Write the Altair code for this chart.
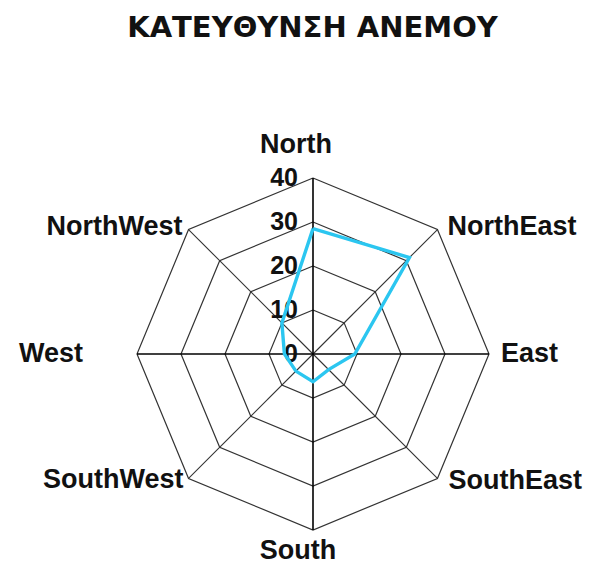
import math
import altair as alt
import pandas as pd

# ---- data ----
title_text = "ΚΑΤΕΥΘΥΝΣΗ ΑΝΕΜΟΥ"
directions = ["North", "NorthEast", "East", "SouthEast", "South", "SouthWest", "West", "NorthWest"]
values = [28.5, 31, 9.5, 5, 6.3, 5.5, 6.5, 10]
ring_values = [10, 20, 30, 40]
tick_values = [0, 10, 20, 30, 40]
tick_labels = ["0", "10", "20", "30", "40"]
max_value = 40

angles = [i * 45 for i in range(len(directions))]

series_df = pd.DataFrame({
    "dir": directions + [directions[0]],
    "value": values + [values[0]],
    "angle": angles + [360],
    "order": list(range(len(directions) + 1)),
})

ring_rows = []
for r in ring_values:
    for i in range(len(directions) + 1):
        ring_rows.append({"ring": r, "value": r, "angle": i * 45, "order": i})
rings_df = pd.DataFrame(ring_rows)

spokes_df = pd.DataFrame({"dir": directions, "angle": angles, "value": [max_value] * len(directions),
                          "main": [a % 90 == 0 for a in angles]})
ticks_df = pd.DataFrame({"label": tick_labels, "value": tick_values, "angle": [0] * len(tick_values)})
labels_df = pd.DataFrame({"dir": directions, "angle": angles, "value": [max_value] * len(directions)})
title_df = pd.DataFrame({"t": [title_text]})

# ---- layout ----
W, H = 578, 556
K = 4.4            # pixels per unit
cx, cy = 305, 346  # centre in plot coords
xdom = [-cx / K, (W - cx) / K]
ydom = [-(H - cy) / K, cy / K]

FONT = "Liberation Sans"

def polar(ch):
    return ch.transform_calculate(
        x="datum.value * sin(datum.angle * PI / 180)",
        y="datum.value * cos(datum.angle * PI / 180)",
    )

X = lambda f="x": alt.X(f"{f}:Q", scale=alt.Scale(domain=xdom, nice=False, zero=False), axis=None)
Y = lambda f="y": alt.Y(f"{f}:Q", scale=alt.Scale(domain=ydom, nice=False, zero=False), axis=None)

rings = polar(alt.Chart(rings_df)).mark_line(color="#333333", strokeWidth=1.2).encode(
    x=X(), y=Y(), detail="ring:N", order="order:Q"
)

spokes_diag = polar(alt.Chart(spokes_df)).transform_filter("!datum.main").transform_calculate(
    x0="0", y0="0"
).mark_rule(color="#333333", strokeWidth=1.1).encode(
    x=X("x0"), y=Y("y0"), x2="x:Q", y2="y:Q"
)
spokes_main = polar(alt.Chart(spokes_df)).transform_filter("datum.main").transform_calculate(
    x0="0", y0="0"
).mark_rule(color="#000000", strokeWidth=1.6).encode(
    x=X("x0"), y=Y("y0"), x2="x:Q", y2="y:Q"
)

series = polar(alt.Chart(series_df)).mark_line(color="#2BC6F0", strokeWidth=3.4, strokeJoin="miter").encode(
    x=X(), y=Y(), order="order:Q"
)

ticks = polar(alt.Chart(ticks_df)).mark_text(
    font=FONT, fontSize=25, fontWeight="bold", color="#111111",
    align="right", baseline="middle", dx=-15
).encode(x=X(), y=Y(), text="label:N")

label_style = {
    "North": dict(align="center", dx=-17, dy=-33),
    "NorthEast": dict(align="left", dx=10, dy=-3),
    "East": dict(align="left", dx=12, dy=0),
    "SouthEast": dict(align="left", dx=11, dy=3),
    "South": dict(align="center", dx=-15, dy=21),
    "SouthWest": dict(align="right", dx=-5, dy=2),
    "West": dict(align="right", dx=-54, dy=0),
    "NorthWest": dict(align="right", dx=-6, dy=-3),
}

label_layers = []
for d in directions:
    st = label_style[d]
    label_layers.append(
        polar(alt.Chart(labels_df)).transform_filter(alt.datum.dir == d).mark_text(
            font=FONT, fontSize=27, fontWeight="bold", color="#111111",
            baseline="middle", **st
        ).encode(x=X(), y=Y(), text="dir:N")
    )

title = alt.Chart(title_df).mark_text(
    font="DejaVu Sans", fontSize=29, fontWeight="bold", color="#111111",
    align="center", baseline="alphabetic"
).encode(x=alt.value(304.5), y=alt.value(29), text="t:N")

chart = alt.layer(rings, spokes_diag, spokes_main, ticks, series, *label_layers, title).properties(
    width=W, height=H,
    autosize=alt.AutoSizeParams(type="none"),
    padding=0,
    background="white",
).configure_view(stroke=None)

chart.save("out.html", embed_options={"renderer": "svg", "actions": False})
